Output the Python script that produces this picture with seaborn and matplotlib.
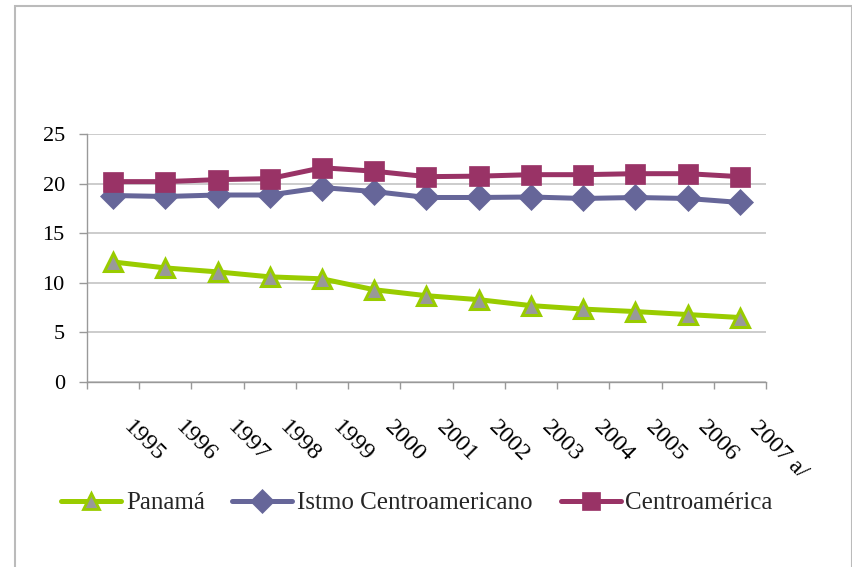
import matplotlib
matplotlib.use("Agg")
import matplotlib.pyplot as plt
import matplotlib.transforms as mtransforms
from matplotlib.patches import Rectangle
from matplotlib.lines import Line2D
import seaborn as sns
import numpy as np
import pandas as pd

years = ["1995", "1996", "1997", "1998", "1999", "2000", "2001",
         "2002", "2003", "2004", "2005", "2006", "2007 a/"]
panama = [12.1, 11.5, 11.1, 10.6, 10.4, 9.3, 8.7, 8.3, 7.7, 7.35, 7.1, 6.8, 6.5]
istmo = [18.8, 18.7, 18.85, 18.85, 19.6, 19.2, 18.6, 18.6, 18.65, 18.5, 18.6, 18.5, 18.1]
centro = [20.2, 20.2, 20.4, 20.5, 21.6, 21.25, 20.7, 20.75, 20.9, 20.9, 21.0, 21.0, 20.7]
series_names = ["Panamá", "Istmo Centroamericano", "Centroamérica"]

sns.set_theme(style="white")
plt.rcParams["font.family"] = ["Liberation Serif", "DejaVu Serif"]

fig = plt.figure(figsize=(8.53, 5.67), dpi=100)
# outer chart border
fig.patches.append(Rectangle((15 / 853, -0.05), (852 - 15) / 853, 1.05 - 6 / 567,
                             transform=fig.transFigure, fill=False,
                             edgecolor="#BBBBBB", linewidth=1.5))
ax = fig.add_axes([87 / 853, 1 - 382 / 567, (766 - 87) / 853, (382 - 134) / 567])

x = np.arange(len(years))
styles = [
    dict(color="#99CC00", marker="^", markersize=13, markerfacecolor="#999999",
         markeredgecolor="#99CC00", markeredgewidth=2.2),
    dict(color="#666699", marker="D", markersize=13.5, markerfacecolor="#666699",
         markeredgecolor="#666699", markeredgewidth=0.5),
    dict(color="#993366", marker="s", markersize=14, markerfacecolor="#993366",
         markeredgecolor="#993366", markeredgewidth=0.5),
]
for name, vals, st in zip(series_names, [panama, istmo, centro], styles):
    df = pd.DataFrame({"x": x, "y": vals})
    sns.lineplot(data=df, x="x", y="y", ax=ax, linewidth=3.6, label=name, **st)

ax.set_xlim(-0.5, len(years) - 0.5)
ax.set_ylim(0, 25)
ax.set_yticks([0, 5, 10, 15, 20, 25])
ax.set_xlabel("")
ax.set_ylabel("")
ax.grid(axis="y", color="#BEBEBE", linewidth=1.1)
ax.grid(axis="x", visible=False)
for s in ["top", "right"]:
    ax.spines[s].set_visible(False)
for s in ["left", "bottom"]:
    ax.spines[s].set_color("#999999")
    ax.spines[s].set_linewidth(1.0)

ax.set_xticks(x, years)
ax.set_xticks(np.arange(len(years) + 1) - 0.5, minor=True)
ax.tick_params(axis="x", which="major", length=0, pad=25, labelsize=17.5, colors="black")
ax.tick_params(axis="x", which="minor", length=5, width=1, color="#999999", direction="out", bottom=True)
ax.tick_params(axis="y", which="major", length=6, width=1, color="#999999", direction="out",
               left=True, pad=10, labelsize=16, labelcolor="black")

offset = mtransforms.ScaledTranslation(6 / 100, 0, fig.dpi_scale_trans)
for lab in ax.get_xticklabels():
    lab.set_rotation(-45)
    lab.set_ha("left")
    lab.set_va("top")
    lab.set_transform(lab.get_transform() + offset)

if ax.legend_:
    ax.legend_.remove()
leg_styles = [dict(st, markersize=st["markersize"] * 0.9) for st in styles]
leg_styles[0]["markeredgewidth"] = 2.0
handles = [Line2D([0], [0], linewidth=3.6, **st) for st in leg_styles]
fig.legend(handles, series_names, loc="center", ncol=3, frameon=False,
           bbox_to_anchor=(417 / 853, 1 - 503 / 567), fontsize=18,
           handlelength=2.4, handletextpad=0.2, columnspacing=1.1)

fig.savefig("out.png", dpi=100)
